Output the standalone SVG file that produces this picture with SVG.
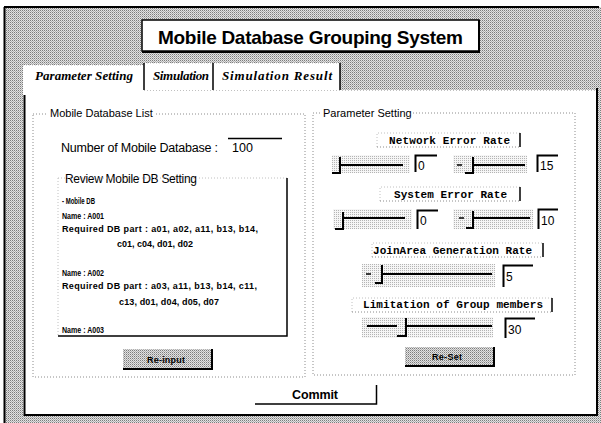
<svg xmlns="http://www.w3.org/2000/svg" width="601" height="423" viewBox="0 0 601 423">
<defs>
<pattern id="dg" width="2" height="2" patternUnits="userSpaceOnUse"><rect width="2" height="2" fill="#e2e2e2"/><rect width="1" height="1" fill="#7c7c7c"/><rect x="1" y="1" width="1" height="1" fill="#b0b0b0"/></pattern>
<pattern id="lg" width="2" height="2" patternUnits="userSpaceOnUse"><rect width="2" height="2" fill="#f6f6f6"/><rect width="1" height="1" fill="#b4b4b4"/></pattern>
</defs>
<style>
.t{font-family:"Liberation Sans",Arial,sans-serif;fill:#000}
.tab{font-family:"Liberation Serif","Times New Roman",serif;font-weight:bold;font-style:italic;font-size:13px;fill:#000}
.mono{font-family:"Liberation Mono","Courier New",monospace;font-weight:bold;font-size:11px;fill:#000}
.sm{font-family:"Liberation Sans",Arial,sans-serif;font-weight:bold;font-size:9px;fill:#000}
.dot{fill:none;stroke:#8c8c8c;stroke-width:1;stroke-dasharray:1 2}
.ldot{fill:none;stroke:#c0c0c0;stroke-width:1;stroke-dasharray:1 2}
.blk{stroke:#000;stroke-width:2;fill:none}
.b1{stroke:#000;stroke-width:1.5;fill:none}
.sl{fill:url(#lg)}
.btn{fill:url(#dg)}
</style>
<rect width="601" height="423" fill="#fff"/>
<g id="frame">
<rect x="4" y="7" width="597" height="416" fill="url(#dg)"/>
<path d="M4,7 H599 M4.5,7 V423" class="blk"/>
</g>
<g id="title">
<rect x="142" y="20" width="337" height="31" fill="#fff" stroke="#000" stroke-width="1.5"/>
<path d="M479,20 V52 H142" class="blk"/>
<text x="158" y="44" class="t" font-size="19" font-weight="bold" textLength="305">Mobile Database Grouping System</text>
</g>
<g id="tabs">
<rect x="23" y="65" width="121" height="27" fill="#fff"/>
<rect x="144" y="63" width="196" height="28" fill="#fff"/>
<path d="M23,65 H144 M144,63 H340" class="ldot"/>
<path d="M144,63 V90 M213,63 V90 M340,63 V90" class="b1"/>
<text x="35" y="80" class="tab" textLength="98">Parameter Setting</text>
<text x="153" y="80" class="tab" textLength="56">Simulation</text>
<text x="222" y="80" class="tab" textLength="110">Simulation Result</text>
</g>
<g id="panel">
<rect x="23" y="90" width="574" height="325" fill="#fff"/>
<path d="M144,90.5 H597" class="ldot"/>
<path d="M24.5,95 V415 H597 V88" class="blk"/>
</g>
<g id="mobile-db-list">
<path d="M33,114 H47 M156,114 H305 V377 H33 V114" class="dot"/>
<text x="50" y="117" class="t" font-size="11">Mobile Database List</text>
<text x="61" y="152" class="t" font-size="12.5" textLength="157">Number of Mobile Database :</text>
<path d="M228,138.5 H282" class="b1"/>
<text x="232" y="152" class="t" font-size="12.5">100</text>
<text x="65" y="183" class="t" font-size="12" textLength="132">Review Mobile DB Setting</text>
<path d="M58,178 H287" class="ldot"/>
<path d="M58,178 V335" class="ldot"/>
<path d="M287,178 V336 H58" class="b1"/>
<text x="62" y="204" class="sm" textLength="33" lengthAdjust="spacingAndGlyphs">- Mobile DB</text>
<text x="62" y="219" class="sm" textLength="42" lengthAdjust="spacingAndGlyphs">Name : A001</text>
<text x="62" y="232" class="sm" textLength="196">Required DB part : a01, a02, a11, b13, b14,</text>
<text x="117" y="247" class="sm" textLength="76">c01, c04, d01, d02</text>
<text x="62" y="276" class="sm" textLength="42" lengthAdjust="spacingAndGlyphs">Name : A002</text>
<text x="62" y="289" class="sm" textLength="195">Required DB part : a03, a11, b13, b14, c11,</text>
<text x="119" y="305" class="sm" textLength="100">c13, d01, d04, d05, d07</text>
<text x="62" y="333" class="sm" textLength="42" lengthAdjust="spacingAndGlyphs">Name : A003</text>
</g>
<g id="btn-reinput">
<rect x="123" y="349" width="89" height="20" class="btn"/>
<path d="M212,349 V369 H123" class="blk"/>
<text x="147" y="363" class="sm" font-size="8.5" textLength="38">Re-input</text>
</g>
<g id="param-setting">
<path d="M313,113 H320 M413,113 H575 V375 H313 V113" class="dot"/>
<text x="323" y="117" class="t" font-size="11">Parameter Setting</text>
</g>
<g id="network-error">
<path d="M377,147 V133 H520" class="ldot"/>
<path d="M377,147 H520" class="dot"/>
<path d="M520,133 V147" class="b1"/>
<text x="389" y="144" class="mono" textLength="121">Network Error Rate</text>
<rect x="332" y="155" width="78" height="18" class="sl"/>
<path d="M340,165 H403" class="blk"/>
<path d="M340,157 V173 H332" class="blk"/>
<path d="M415.5,172 V155.5 H437" class="blk"/>
<text x="418" y="170" class="t" font-size="12">0</text>
<rect x="453" y="155" width="74" height="18" class="sl"/>
<path d="M457,165 H462" class="b1"/>
<path d="M473,165 H525" class="blk"/>
<path d="M473,157 V173 H465" class="blk"/>
<path d="M537.5,172 V155.5 H558" class="blk"/>
<text x="540" y="170" class="t" font-size="12">15</text>
</g>
<g id="system-error">
<path d="M380,201 V187 H520" class="ldot"/>
<path d="M380,201 H520" class="dot"/>
<path d="M520,187 V201" class="b1"/>
<text x="394" y="198" class="mono" textLength="113">System Error Rate</text>
<rect x="333" y="209" width="79" height="20" class="sl"/>
<path d="M343,218 H405" class="blk"/>
<path d="M343,212 V229 H335" class="blk"/>
<path d="M417.5,229 V210.5 H438" class="blk"/>
<text x="420" y="225" class="t" font-size="12">0</text>
<rect x="453" y="209" width="80" height="20" class="sl"/>
<path d="M459,218 H464" class="b1"/>
<path d="M473,218 H530" class="blk"/>
<path d="M473,211 V228 H466" class="blk"/>
<path d="M538.5,229 V209.5 H558" class="blk"/>
<text x="541" y="225" class="t" font-size="12">10</text>
</g>
<g id="joinarea-rate">
<path d="M372,257 V243 H543" class="ldot"/>
<path d="M372,257 H543" class="dot"/>
<path d="M543,243 V257" class="b1"/>
<text x="373" y="254" class="mono" textLength="159">JoinArea Generation Rate</text>
<rect x="362" y="264" width="133" height="23" class="sl"/>
<path d="M366,274 H371" class="b1"/>
<path d="M382,274 H492" class="blk"/>
<path d="M382,265 V283 H375" class="blk"/>
<path d="M503.5,287 V265.5 H533" class="blk"/>
<text x="506" y="281" class="t" font-size="12">5</text>
</g>
<g id="group-limit">
<path d="M352,312 V298 H552" class="ldot"/>
<path d="M352,312 H552" class="dot"/>
<path d="M552,298 V312" class="b1"/>
<text x="363" y="308" class="mono" textLength="180">Limitation of Group members</text>
<rect x="362" y="317" width="131" height="21" class="sl"/>
<path d="M367,326 H397" class="blk"/>
<path d="M406,326 H492" class="blk"/>
<path d="M406,318 V336 H397" class="blk"/>
<path d="M505.5,338 V318.5 H535" class="blk"/>
<text x="508" y="334" class="t" font-size="12">30</text>
</g>
<g id="btn-reset">
<rect x="405" y="347" width="89" height="19" class="btn"/>
<path d="M494,347 V366 H405" class="blk"/>
<text x="432" y="360" class="sm" font-size="8.5" textLength="30">Re-Set</text>
</g>
<g id="btn-commit">
<path d="M376.5,385 V404 H255" class="b1"/>
<text x="292" y="399" class="t" font-size="12.5" font-weight="bold" textLength="46">Commit</text>
</g>
<g id="connectors"/>
</svg>
